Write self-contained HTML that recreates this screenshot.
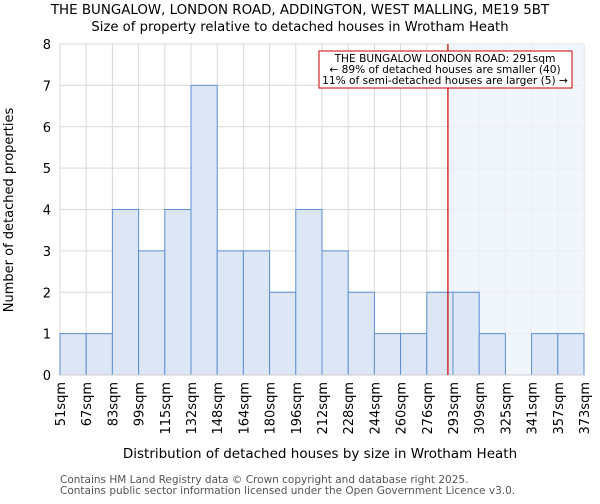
<!DOCTYPE html>
<html><head><meta charset="utf-8"><style>
body{margin:0;background:#fff;font-family:"DejaVu Sans","Liberation Sans",sans-serif;}
svg text{font-family:"DejaVu Sans","Liberation Sans",sans-serif;}
</style></head><body>
<svg id="chart" width="600" height="500" xmlns="http://www.w3.org/2000/svg">
<text x="300" y="14" text-anchor="middle" font-size="13.4" fill="#000">THE BUNGALOW, LONDON ROAD, ADDINGTON, WEST MALLING, ME19 5BT</text>
<text x="300" y="31" text-anchor="middle" font-size="13.2" fill="#000">Size of property relative to detached houses in Wrotham Heath</text>
<g id="grid"></g><g id="shade"></g><g id="bars"></g><g id="axes"></g>
<text x="320" y="458" text-anchor="middle" font-size="13.5">Distribution of detached houses by size in Wrotham Heath</text>
<text transform="translate(13,210) rotate(-90)" text-anchor="middle" font-size="13">Number of detached properties</text>
<text x="60" y="483" font-size="10.5" fill="#555">Contains HM Land Registry data © Crown copyright and database right 2025.</text>
<text x="60" y="494" font-size="10.5" fill="#555">Contains public sector information licensed under the Open Government Licence v3.0.</text>
</svg>
<script>
const binEdges=[51,67,83,99,115,132,148,164,180,196,212,228,244,260,276,293,309,325,341,357,373];
const counts=[1,1,4,3,4,7,3,3,2,4,3,2,1,1,2,2,1,0,1,1];
const yTicks=[0,1,2,3,4,5,6,7,8];
const subjectSize=291;
const NS="http://www.w3.org/2000/svg";
const L=60,R=584,T=44,B=375,YMAX=8;
const nb=counts.length;
function xIdx(i){return L+(R-L)*i/nb;}
function xVal(v){let i=0;while(i<nb-1&&v>binEdges[i+1])i++;return xIdx(i)+(xIdx(i+1)-xIdx(i))*(v-binEdges[i])/(binEdges[i+1]-binEdges[i]);}
function y(v){return B-(B-T)*v/YMAX;}
function mk(tag,attrs,parent){const e=document.createElementNS(NS,tag);for(const k in attrs)e.setAttribute(k,attrs[k]);document.getElementById(parent).appendChild(e);return e;}
yTicks.forEach(t=>{
 const g=mk('line',{x1:L,x2:R,y1:y(t),y2:y(t),stroke:'#d9d9d9'},'grid');
 
 
 const tx=mk('text',{x:L-9,y:y(t)+5,'text-anchor':'end','font-size':'13'},'axes');
 tx.textContent=t;
 
 
});
binEdges.forEach((e,i)=>{
 const g=mk('line',{x1:xIdx(i),x2:xIdx(i),y1:T,y2:B,stroke:'#d9d9d9'},'grid');
 
 
 const xx=xIdx(i)+5;
 const tx=mk('text',{x:0,y:0,'text-anchor':'end','font-size':'13',transform:`translate(${xx},382) rotate(-90)`},'axes');
 tx.textContent=e+'sqm';
 
 
});
const sx=xVal(subjectSize)-2;
const sh=mk('rect',{x:sx,y:T,width:R-sx,height:B-T,fill:'#eef2fb',opacity:0.8},'shade');


counts.forEach((c,i)=>{
 if(c<=0)return;
 const r=mk('rect',{x:xIdx(i),y:y(c),width:xIdx(i+1)-xIdx(i),height:B-y(c),fill:'#dce6f4',stroke:'#5b8fd6','stroke-width':1},'bars');
 
 
});
const b=mk('line',{x1:L,x2:R,y1:B,y2:B,stroke:'#ccc'},'axes');


const ml=mk('line',{x1:sx,x2:sx,y1:T,y2:B,stroke:'#cc0000','stroke-width':1.2},'axes');


const box=mk('rect',{x:319,y:51,width:253,height:37,fill:'#fff',stroke:'#cc0000','stroke-width':1},'axes');


['THE BUNGALOW LONDON ROAD: 291sqm','← 89% of detached houses are smaller (40)','11% of semi-detached houses are larger (5) →'].forEach((s,i)=>{
 const t=mk('text',{x:445,y:62+i*11,'text-anchor':'middle','font-size':'10.6'},'axes');
 t.textContent=s;
 
 
});
</script>
</body></html>
